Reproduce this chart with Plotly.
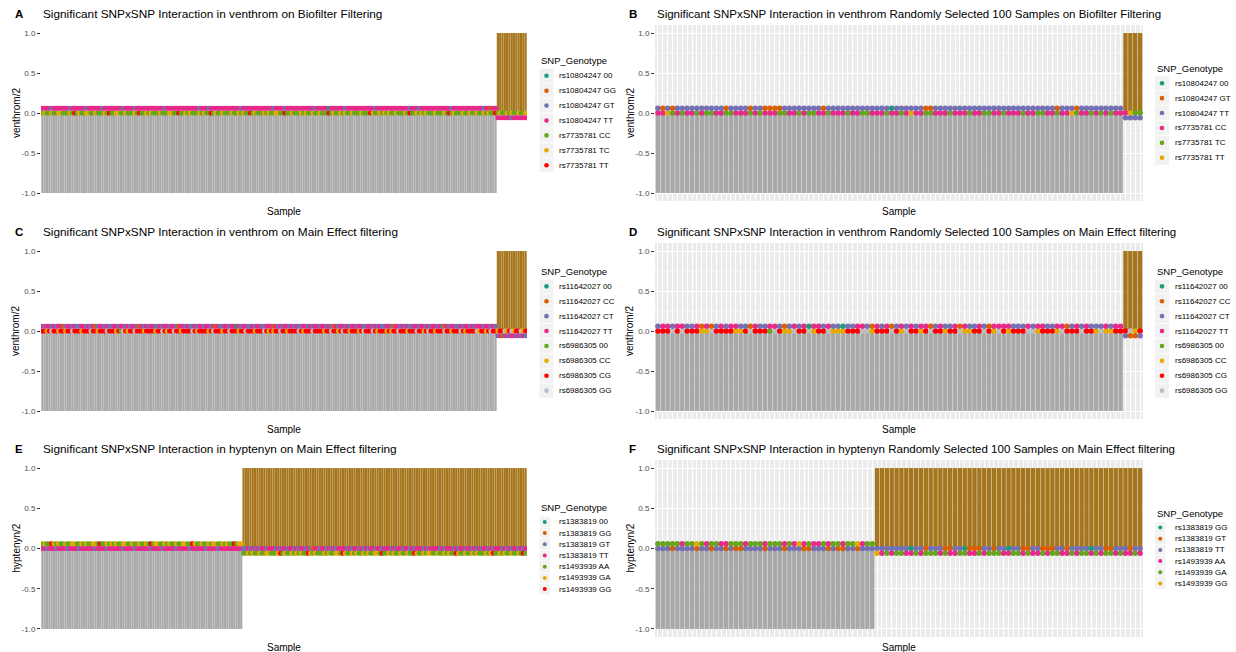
import plotly.graph_objects as go

W, H = 1236, 652
FONT = "Liberation Sans, Arial, Helvetica, sans-serif"

# ggplot-style manual palette (assigned in legend order)
PALETTE = ["#1B9E77", "#D95F02", "#7570B3", "#E7298A", "#66A61E", "#E6AB02", "#FF0000", "#BEBEBE"]
CONTROL_COLOR = "#A9A9A9"
CASE_COLOR = "#A6761D"

# ------------------------------------------------------------------ data
# Panel A : venthrom, Biofilter filtering (all samples)
A_n_controls = 197
A_n_cases = 13
A_rs10804247 = "".join([
    "TTTTXTTTTT", "TTXTTTTTTX", "TTTTTTXTTT", "TTTTTXTTTT", "XTTTTTTTTT",
    "TTTXTTTTTT", "TTTTTTTTXT", "TTXTTTTTTT", "TTTTTTXTTT", "TTTTTTTTTT",
    "XTTTTXTTTT", "TTTTTTTTXT", "TTTT0TTTTT", "TXTTTTTTTT", "TTTTXTTTTT",
    "TTTTTTTTTX", "TTTXTTTTTT", "TTTTTTTXTT", "TTTTTTTTTT", "TXTTGTTTTT",
    "TTTXTTTTTT"])
A_rs7735781 = "".join([
    "CYCCYCCYYC", "CCYCTCYCCY", "YCCYCCCYCT", "CCYYCCYCCC", "YCTCCYCYCC",
    "CYCCCYYCCT", "CCYCYCCCYC", "YCCTCYCCYC", "CCYCCYCYCC", "TCYCCCYCYC",
    "CYYCCTCCYC", "CCYCYCCYCC", "YCCCTCYCCY", "CYCCYCCCYC", "CCTYCCYCYC",
    "YCCYCCCYCT", "CCYCYCYCCC", "YCCCYCTCYC", "CCYCCYCCYC", "CYCYCCTCYC",
    "CYCYCCYCCY"])
A_outer_codes = {"0": "rs10804247 00", "G": "rs10804247 GG", "X": "rs10804247 GT", "T": "rs10804247 TT"}
A_inner_codes = {"C": "rs7735781 CC", "Y": "rs7735781 TC", "T": "rs7735781 TT"}
A_legend = ["rs10804247 00", "rs10804247 GG", "rs10804247 GT", "rs10804247 TT",
            "rs7735781 CC", "rs7735781 TC", "rs7735781 TT"]

# Panel B : venthrom, 100 random samples, Biofilter filtering
B_n_controls = 96
B_n_cases = 4
B_rs10804247 = "".join([
    "TGTGTTTTTT", "TTTTGTTTTG", "TTGGGGTTTT", "TTTTGTTTTT", "TTTTTTTT0T",
    "TTTTTGGTTT", "TTTTTTTTTT", "TTTTTTTTTT", "TTGTTTGTTT", "TTTTTTTTTT"])
B_rs7735781 = "".join([
    "CCYTCTCCTC", "TTCCTTCCCT", "CTCCCTTCCT", "CTTCCTCCCT", "CCTTCCCTCC",
    "TCYCCTTCCC", "TCCCTCCTTC", "CTCCCTCCTT", "CCTCCYTCCT", "CTCTCCCYTT"])
B_outer_codes = {"0": "rs10804247 00", "G": "rs10804247 GT", "T": "rs10804247 TT"}
B_inner_codes = {"C": "rs7735781 CC", "T": "rs7735781 TC", "Y": "rs7735781 TT"}
B_legend = ["rs10804247 00", "rs10804247 GT", "rs10804247 TT",
            "rs7735781 CC", "rs7735781 TC", "rs7735781 TT"]

# Panel C : venthrom, Main Effect filtering (all samples)
C_n_controls = 197
C_n_cases = 13
C_rs11642027 = "".join([
    "TXTTXTXTTC", "XTTXTXXTTX", "TXTCXTTXTX", "XTTXTTXTXT", "TXCTXTXTTX",
    "XTXTTXTTXC", "TTXTXXTXTT", "XTTXTCTXXT", "TXTT0TXTTX", "XTXTTXXTTT",
    "CTXTXTTXTX", "TXXTTXTXTT", "XTTXTXCTXT", "TXTXTTXTTX", "XTTXTXTXXT",
    "TXCTTXTXTX", "XTTXTTXTXT", "TXTXCTXTTX", "XTXTTXTXTT", "TXTTXTXXTC",
    "XTXTTXTXTX"])
C_rs6986305 = "".join([
    "GGCGYGGCGG", "CGGYGGGCGG", "GYGGCGGGYG", "GGCG0YGCGG", "YGGGCGGGGC",
    "GGYGCGGYGG", "CGGGGYGCGG", "GGCGYGGGCG", "GYGGGCGGYG", "GGCGGGYGCG",
    "CGGYGGCGGG", "GYGCGGGYGG", "GGCGGYGGCG", "YGGCGGGCGY", "GGGYGCGGGC",
    "GCGGYGGGCG", "GGYGGCGYGG", "CGGGYGGCGG", "GYGCGGGGYC", "GGCGYGGCGG",
    "YCGYCGGYCG"])
C_outer_codes = {"0": "rs11642027 00", "C": "rs11642027 CC", "X": "rs11642027 CT", "T": "rs11642027 TT"}
C_inner_codes = {"0": "rs6986305 00", "C": "rs6986305 CC", "G": "rs6986305 CG", "Y": "rs6986305 GG"}
C_legend = ["rs11642027 00", "rs11642027 CC", "rs11642027 CT", "rs11642027 TT",
            "rs6986305 00", "rs6986305 CC", "rs6986305 CG", "rs6986305 GG"]

# Panel D : venthrom, 100 random samples, Main Effect filtering
D_n_controls = 96
D_n_cases = 4
D_rs11642027 = "".join([
    "XTTXTTXXTC", "TCXTXTTXXC", "TXXTTXCXTX", "T0TTXTXX0X", "XTTXCTXTCX",
    "TXTXTTCXTX", "XTCTXXTXCT", "TTTXXXTXTT", "XXTTCXTXTX", "XXTXTTXCCX"])
D_rs6986305 = "".join([
    "GGGYGYGGGC", "CYGGGGCCGY", "GGG0YGCCYG", "GYCGGYCCCG", "GGYYCGGGYG",
    "CYGGCGYGGC", "GGYCCGGYGC", "YGCGGGYYCG", "GGCYGGGYGG", "CYCCGGGYCG"])
D_legend = C_legend

# Panel E : hyptenyn, Main Effect filtering (all samples)
E_n_controls = 87
E_n_cases = 123
E_rs1493939 = "".join([
    "ARAAGRARAA", "RAARRAARAR", "AARRAGAARA", "RARAARRAAR", "AARAARAGAR",
    "RAARARAARA", "ARRAAGRAAR", "AARARRAARA", "RAAGARRAAR", "ARAARAARRA",
    "AARGARAARA", "RARAAGRARA", "AARARAARRA", "GRAARARAAR", "ARAARRAGAA",
    "RARAARAARA", "AGRAARARRA", "ARAARARAAG", "RAARAARARA", "AARARGAARA",
    "RAARAARAGA"])
E_rs1383819 = "".join([
    "TTXTTTXTTT", "TXTTTTXTTT", "TTTXTTTTXT", "TTTTTXTTTT", "XTTTTTTXTT",
    "TTXTTTTTXT", "TTTTXTTTTT", "TXTTTTXTTT", "TTTTTTTXXT", "XTXTXTTXTT",
    "TXTXTTXTTX", "TXTTXTXGTT", "XTTXTXTXTT", "TTXTXTTXTX", "TXTTXTTXTT",
    "TXTXTTXTTX", "TXTTTXTXTT", "TTXTXTTTXT", "XTTXTTXTXT", "XTTXTXTTTX",
    "TXTXTTXTXT"])
E_outer_codes = {"A": "rs1493939 AA", "R": "rs1493939 GA", "G": "rs1493939 GG"}
E_inner_codes = {"0": "rs1383819 00", "G": "rs1383819 GG", "X": "rs1383819 GT", "T": "rs1383819 TT"}
E_legend = ["rs1383819 00", "rs1383819 GG", "rs1383819 GT", "rs1383819 TT",
            "rs1493939 AA", "rs1493939 GA", "rs1493939 GG"]

# Panel F : hyptenyn, 100 random samples, Main Effect filtering
F_n_controls = 45
F_n_cases = 55
F_rs1493939 = "".join([
    "RRRRRARRGR", "ARRAARRRAR", "RRARRRARAG", "ARAARARRAR", "RGARRGARAR",
    "RAARARRRAR", "AARRAARARR", "RAARRARAAR", "ARRAARARRA", "RARRARAARA"])
F_rs1383819 = "".join([
    "TTTKTTTTKT", "TKTTKTKKTT", "TTKTTTKTTT", "KKTTTKTKKT", "TKTTTTTTTT",
    "TTGTTKTTTK", "KTTGKKKTTK", "TTGTTKKTTK", "KKTTKTTTTG", "TTKKTTTKTT"])
F_outer_codes = {"A": "rs1493939 AA", "R": "rs1493939 GA", "G": "rs1493939 GG"}
F_inner_codes = {"G": "rs1383819 GG", "K": "rs1383819 GT", "T": "rs1383819 TT"}
F_legend = ["rs1383819 GG", "rs1383819 GT", "rs1383819 TT",
            "rs1493939 AA", "rs1493939 GA", "rs1493939 GG"]

panels = [
    dict(letter="A", title="Significant SNPxSNP Interaction in venthrom on Biofilter Filtering",
         ylab="venthrom/2", n_ctrl=A_n_controls, n_case=A_n_cases,
         outer=A_rs10804247, outer_codes=A_outer_codes, inner=A_rs7735781, inner_codes=A_inner_codes,
         legend=A_legend, dense=True, col=0, row=0),
    dict(letter="B", title="Significant SNPxSNP Interaction in venthrom Randomly Selected 100 Samples on Biofilter Filtering",
         ylab="venthrom/2", n_ctrl=B_n_controls, n_case=B_n_cases,
         outer=B_rs10804247, outer_codes=B_outer_codes, inner=B_rs7735781, inner_codes=B_inner_codes,
         legend=B_legend, dense=False, col=1, row=0),
    dict(letter="C", title="Significant SNPxSNP Interaction in venthrom on Main Effect filtering",
         ylab="venthrom/2", n_ctrl=C_n_controls, n_case=C_n_cases,
         outer=C_rs11642027, outer_codes=C_outer_codes, inner=C_rs6986305, inner_codes=C_inner_codes,
         legend=C_legend, dense=True, col=0, row=1),
    dict(letter="D", title="Significant SNPxSNP Interaction in venthrom Randomly Selected 100 Samples on Main Effect filtering",
         ylab="venthrom/2", n_ctrl=D_n_controls, n_case=D_n_cases,
         outer=D_rs11642027, outer_codes=C_outer_codes, inner=D_rs6986305, inner_codes=C_inner_codes,
         legend=D_legend, dense=False, col=1, row=1),
    dict(letter="E", title="Significant SNPxSNP Interaction in hyptenyn on Main Effect filtering",
         ylab="hyptenyn/2", n_ctrl=E_n_controls, n_case=E_n_cases,
         outer=E_rs1493939, outer_codes=E_outer_codes, inner=E_rs1383819, inner_codes=E_inner_codes,
         legend=E_legend, dense=True, col=0, row=2),
    dict(letter="F", title="Significant SNPxSNP Interaction in hyptenyn Randomly Selected 100 Samples on Main Effect filtering",
         ylab="hyptenyn/2", n_ctrl=F_n_controls, n_case=F_n_cases,
         outer=F_rs1493939, outer_codes=F_outer_codes, inner=F_rs1383819, inner_codes=F_inner_codes,
         legend=F_legend, dense=False, col=1, row=2),
]

# ------------------------------------------------------------------ layout geometry (pixels)
COL_X = [(41, 527), (655, 1143)]
ROW_Y = [(25, 201), (243, 419), (460, 637)]
LEG_BOX_X = [546.5, 1162.0]
# legend: key spacing, key size, gap title -> first key (legend block centred on the panel)
LEG_SPACING = [14.9, 14.9, 11.2]
LEG_KEY = [14, 14, 10.5]
LEG_TITLE_GAP = [15, 15, 14]
TITLE_SIZE = [11.8, 11.5]
OFFSET = 0.06


def px(x):
    return x / W


def py(y):
    return 1 - y / H


fig = go.Figure()
layout = {}
annotations = []
shapes = []

for k, p in enumerate(panels, start=1):
    x0, x1 = COL_X[p["col"]]
    y0, y1 = ROW_Y[p["row"]]
    n = p["n_ctrl"] + p["n_case"]
    assert len(p["outer"]) == n and len(p["inner"]) == n, (p["letter"], len(p["outer"]), len(p["inner"]), n)
    idx = list(range(n))
    status = [-1] * p["n_ctrl"] + [1] * p["n_case"]
    color_of = dict(zip(p["legend"], PALETTE))
    xr = "x" if k == 1 else f"x{k}"
    yr = "y" if k == 1 else f"y{k}"
    dense = p["dense"]

    fig.add_trace(go.Bar(
        x=idx, y=status, xaxis=xr, yaxis=yr, showlegend=False, hoverinfo="skip",
        width=0.95 if dense else 0.9,
        marker=dict(color=[CONTROL_COLOR if s < 0 else CASE_COLOR for s in status], line=dict(width=0))))
    msize = 5 if dense else 5.5
    fig.add_trace(go.Scatter(
        x=idx, y=[0] * n, mode="markers", xaxis=xr, yaxis=yr, showlegend=False, hoverinfo="skip",
        marker=dict(size=msize, color=[color_of[p["inner_codes"][c]] for c in p["inner"]], line=dict(width=0))))
    fig.add_trace(go.Scatter(
        x=idx, y=[OFFSET if s < 0 else -OFFSET for s in status], mode="markers",
        xaxis=xr, yaxis=yr, showlegend=False, hoverinfo="skip",
        marker=dict(size=msize, color=[color_of[p["outer_codes"][c]] for c in p["outer"]], line=dict(width=0))))

    layout["xaxis" if k == 1 else f"xaxis{k}"] = dict(
        domain=[px(x0), px(x1)], range=[-0.6, n - 0.4], anchor=yr,
        showticklabels=False, ticks="", tickmode="linear", tick0=0, dtick=1,
        showgrid=not dense, gridcolor="white", gridwidth=1, zeroline=False, showline=False)
    layout["yaxis" if k == 1 else f"yaxis{k}"] = dict(
        domain=[py(y1), py(y0)], range=[-1.1, 1.1], anchor=xr,
        tickmode="array", tickvals=[-1, -0.5, 0, 0.5, 1], ticktext=["-1.0", "-0.5", "0.0", "0.5", "1.0"],
        ticks="outside", ticklen=3, tickwidth=1, tickcolor="#333333",
        tickfont=dict(size=8, color="#4D4D4D", family=FONT),
        showgrid=not dense, gridcolor="white", gridwidth=1, zeroline=False, showline=False)
    if not dense:
        shapes.append(dict(type="rect", xref=f"{xr} domain", yref=f"{yr} domain", x0=0, x1=1, y0=0, y1=1,
                           fillcolor="#EBEBEB", line=dict(width=0), layer="below"))
        for mv in (-0.75, -0.25, 0.25, 0.75):
            shapes.append(dict(type="line", xref=f"{xr} domain", yref=yr, x0=0, x1=1, y0=mv, y1=mv,
                               line=dict(color="white", width=0.5), layer="below"))

    # titles
    ts = TITLE_SIZE[p["col"]]
    annotations.append(dict(x=px(x0 - 28), y=py(y0 - 11), xref="paper", yref="paper",
                            text="<b>%s</b>" % p["letter"], showarrow=False, xanchor="left", yanchor="middle",
                            font=dict(size=11.5, color="black", family=FONT)))
    annotations.append(dict(x=px(x0), y=py(y0 - 11), xref="paper", yref="paper", text=p["title"],
                            showarrow=False, xanchor="left", yanchor="middle",
                            font=dict(size=ts, color="black", family=FONT)))
    annotations.append(dict(x=px(x0 - 25), y=py((y0 + y1) / 2), xref="paper", yref="paper", text=p["ylab"],
                            textangle=-90, showarrow=False, xanchor="center", yanchor="middle",
                            font=dict(size=10, color="black", family=FONT)))
    annotations.append(dict(x=px((x0 + x1) / 2), y=py(y1 + 10), xref="paper", yref="paper", text="Sample",
                            showarrow=False, xanchor="center", yanchor="middle",
                            font=dict(size=10, color="black", family=FONT)))

    # legend (ggplot-style keys), block vertically centred on the panel
    m = len(p["legend"])
    s = LEG_SPACING[p["row"]]
    ks = LEG_KEY[p["row"]]
    gap = LEG_TITLE_GAP[p["row"]]
    block = m * s + gap
    first = (y0 + y1) / 2 - block / 2 + gap + s / 2
    bx = LEG_BOX_X[p["col"]]
    annotations.append(dict(x=px(bx - 7.5), y=py(first - gap), xref="paper", yref="paper", text="SNP_Genotype",
                            showarrow=False, xanchor="left", yanchor="middle",
                            font=dict(size=9.5, color="black", family=FONT)))
    for i, lab in enumerate(p["legend"]):
        yy = first + s * i
        shapes.append(dict(type="rect", xref="paper", yref="paper",
                           x0=px(bx - 7), x1=px(bx - 7 + ks), y0=py(yy + ks / 2), y1=py(yy - ks / 2),
                           fillcolor="#F2F2F2", line=dict(width=0)))
        cx = bx - 7 + ks / 2
        r = 2.3 if ks > 12 else 2.0
        shapes.append(dict(type="circle", xref="paper", yref="paper",
                           x0=px(cx - r), x1=px(cx + r), y0=py(yy + r), y1=py(yy - r),
                           fillcolor=color_of[lab], line=dict(width=0)))
        annotations.append(dict(x=px(bx + 10.5), y=py(yy), xref="paper", yref="paper", text=lab,
                                showarrow=False, xanchor="left", yanchor="middle",
                                font=dict(size=8, color="black", family=FONT)))

fig.update_layout(
    template="none", width=W, height=H, margin=dict(l=0, r=0, t=0, b=0),
    paper_bgcolor="white", plot_bgcolor="white", bargap=0.1, showlegend=False,
    font=dict(family=FONT, color="black"), annotations=annotations, shapes=shapes, **layout)

fig.write_html("out.html")
